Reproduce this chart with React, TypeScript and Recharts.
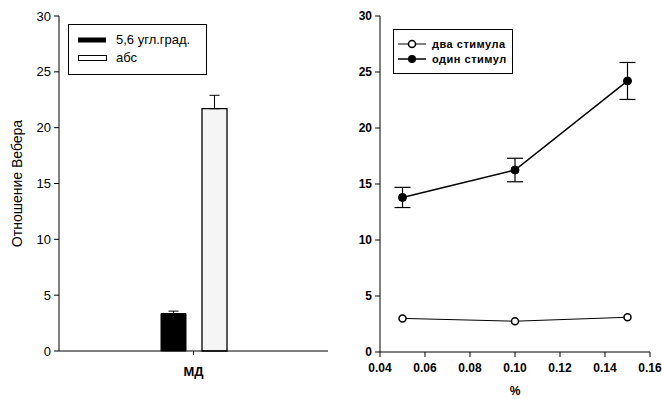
import React from 'react';
import { BarChart, Bar, XAxis, YAxis, ErrorBar, LineChart, Line } from 'recharts';

// ---- Left panel data ----
const categories = ['МД'];
const barSeriesNames = ['5,6 угл.град.', 'абс'];
const angleValues = [3.35];
const angleErrors = [0.22];
const absValues = [21.7];
const absErrors = [1.2];
const leftYTicks = [0, 5, 10, 15, 20, 25, 30];
const leftYLabel = 'Отношение Вебера';

// ---- Right panel data ----
const percentX = [0.05, 0.1, 0.15];
const twoStimuli = [3.0, 2.75, 3.1];
const oneStimulus = [13.8, 16.25, 24.2];
const oneStimulusErr = [0.9, 1.05, 1.65];
const lineSeriesNames = ['два стимула', 'один стимул'];
const rightYTicks = [0, 5, 10, 15, 20, 25, 30];
const rightXTicks = [0.04, 0.06, 0.08, 0.1, 0.12, 0.14, 0.16];
const rightXLabel = '%';

const barData = categories.map((c, i) => ({
  name: c,
  angle: angleValues[i],
  angleErr: [0, angleErrors[i]],
  abs: absValues[i],
  absErr: [0, absErrors[i]],
}));

const lineData = percentX.map((x, i) => ({
  x,
  two: twoStimuli[i],
  one: oneStimulus[i],
  oneErr: oneStimulusErr[i],
}));

const FONT = '"Liberation Sans", Arial, sans-serif';
const tickStyle = { fill: '#000', fontSize: 13, fontFamily: FONT };
const tickStyleBold = { fill: '#000', fontSize: 12, fontFamily: FONT, fontWeight: 'bold' as const };

export default function App() {
  return (
    <div style={{ position: 'absolute', left: 0, top: 0, width: 662, height: 399, background: '#fff', fontFamily: FONT }}>
      {/* Left panel */}
      <div style={{ position: 'absolute', left: 0, top: 0 }}>
        <BarChart
          width={335}
          height={399}
          data={barData}
          margin={{ top: 16, right: 7, left: 0, bottom: 0 }}
          barSize={25}
          barGap={16}
        >
          <XAxis
            dataKey="name"
            height={48}
            stroke="#000"
            tickSize={4}
            tickMargin={12}
            tick={{ ...tickStyle, fontSize: 13, fontWeight: 'bold' }}
          />
          <XAxis xAxisId="top" orientation="top" dataKey="name" height={0} tick={false} tickLine={false} stroke="#000" />
          <YAxis
            domain={[0, 30]}
            ticks={leftYTicks}
            width={59}
            stroke="#000"
            tickSize={5}
            tickMargin={3}
            tick={tickStyle}
            label={{ value: leftYLabel, angle: -90, position: 'center', dx: -12, style: { fill: '#000', fontSize: 14, fontFamily: FONT } }}
          />
          <YAxis yAxisId="right" orientation="right" domain={[0, 30]} width={0} tick={false} tickLine={false} stroke="#000" />
          <Bar dataKey="angle" name={barSeriesNames[0]} fill="#000" stroke="#000" isAnimationActive={false}>
            <ErrorBar dataKey="angleErr" width={5} stroke="#000" strokeWidth={1} />
          </Bar>
          <Bar dataKey="abs" name={barSeriesNames[1]} fill="#f5f5f5" stroke="#000" strokeWidth={1.3} isAnimationActive={false}>
            <ErrorBar dataKey="absErr" width={5} stroke="#000" strokeWidth={1} />
          </Bar>
        </BarChart>
        <div
          style={{
            position: 'absolute', left: 68, top: 24, width: 137, height: 49,
            border: '1px solid #000', background: '#fff', fontSize: 13, color: '#000',
          }}
        >
          <div style={{ position: 'absolute', left: 9, top: 7, display: 'flex', alignItems: 'center' }}>
            <svg width={30} height={8}><rect x={0} y={1.5} width={28} height={5} fill="#000" /></svg>
            <span style={{ marginLeft: 8 }}>{barSeriesNames[0]}</span>
          </div>
          <div style={{ position: 'absolute', left: 9, top: 25, display: 'flex', alignItems: 'center' }}>
            <svg width={30} height={8}><rect x={0.5} y={1.5} width={28} height={5} fill="#fff" stroke="#000" /></svg>
            <span style={{ marginLeft: 8 }}>{barSeriesNames[1]}</span>
          </div>
        </div>
      </div>

      {/* Right panel */}
      <div style={{ position: 'absolute', left: 330, top: 0 }}>
        <LineChart width={332} height={399} data={lineData} margin={{ top: 16, right: 12, left: 0, bottom: 0 }}>
          <XAxis
            dataKey="x"
            type="number"
            domain={[0.04, 0.16]}
            ticks={rightXTicks}
            tickFormatter={(v: number) => v.toFixed(2)}
            height={47}
            stroke="#000"
            tickSize={5}
            tickMargin={6}
            tick={tickStyleBold}
            label={{ value: rightXLabel, position: 'insideBottom', offset: 4, style: { fill: '#000', fontSize: 12, fontWeight: 'bold', fontFamily: FONT } }}
          />
          <XAxis xAxisId="top" orientation="top" type="number" domain={[0.04, 0.16]} height={0} tick={false} tickLine={false} stroke="#000" />
          <YAxis
            domain={[0, 30]}
            ticks={rightYTicks}
            width={50}
            stroke="#000"
            tickSize={5}
            tickMargin={3}
            tick={tickStyleBold}
          />
          <YAxis yAxisId="right" orientation="right" domain={[0, 30]} width={0} tick={false} tickLine={false} stroke="#000" />
          <Line
            dataKey="two"
            name={lineSeriesNames[0]}
            stroke="#000"
            strokeWidth={1}
            dot={{ r: 3.5, fill: '#fff', stroke: '#000', strokeWidth: 1.5 }}
            isAnimationActive={false}
          />
          <Line
            dataKey="one"
            name={lineSeriesNames[1]}
            stroke="#000"
            strokeWidth={1.5}
            dot={{ r: 4, fill: '#000', stroke: '#000', strokeWidth: 1 }}
            isAnimationActive={false}
          >
            <ErrorBar dataKey="oneErr" direction="y" width={8} stroke="#000" strokeWidth={1.2} />
          </Line>
        </LineChart>
        <div
          style={{
            position: 'absolute', left: 63, top: 29, width: 118, height: 43,
            border: '1px solid #000', background: '#fff', fontSize: 11, fontWeight: 'bold', color: '#000',
            letterSpacing: 0.5,
          }}
        >
          <div style={{ position: 'absolute', left: 4, top: 8, display: 'flex', alignItems: 'center' }}>
            <svg width={28} height={10}>
              <line x1={0} y1={5} x2={28} y2={5} stroke="#000" strokeWidth={1} />
              <circle cx={14} cy={5} r={3.5} fill="#fff" stroke="#000" strokeWidth={1.5} />
            </svg>
            <span style={{ marginLeft: 6 }}>{lineSeriesNames[0]}</span>
          </div>
          <div style={{ position: 'absolute', left: 4, top: 23, display: 'flex', alignItems: 'center' }}>
            <svg width={28} height={10}>
              <line x1={0} y1={5} x2={28} y2={5} stroke="#000" strokeWidth={1.5} />
              <circle cx={14} cy={5} r={4} fill="#000" />
            </svg>
            <span style={{ marginLeft: 6 }}>{lineSeriesNames[1]}</span>
          </div>
        </div>
      </div>
    </div>
  );
}
